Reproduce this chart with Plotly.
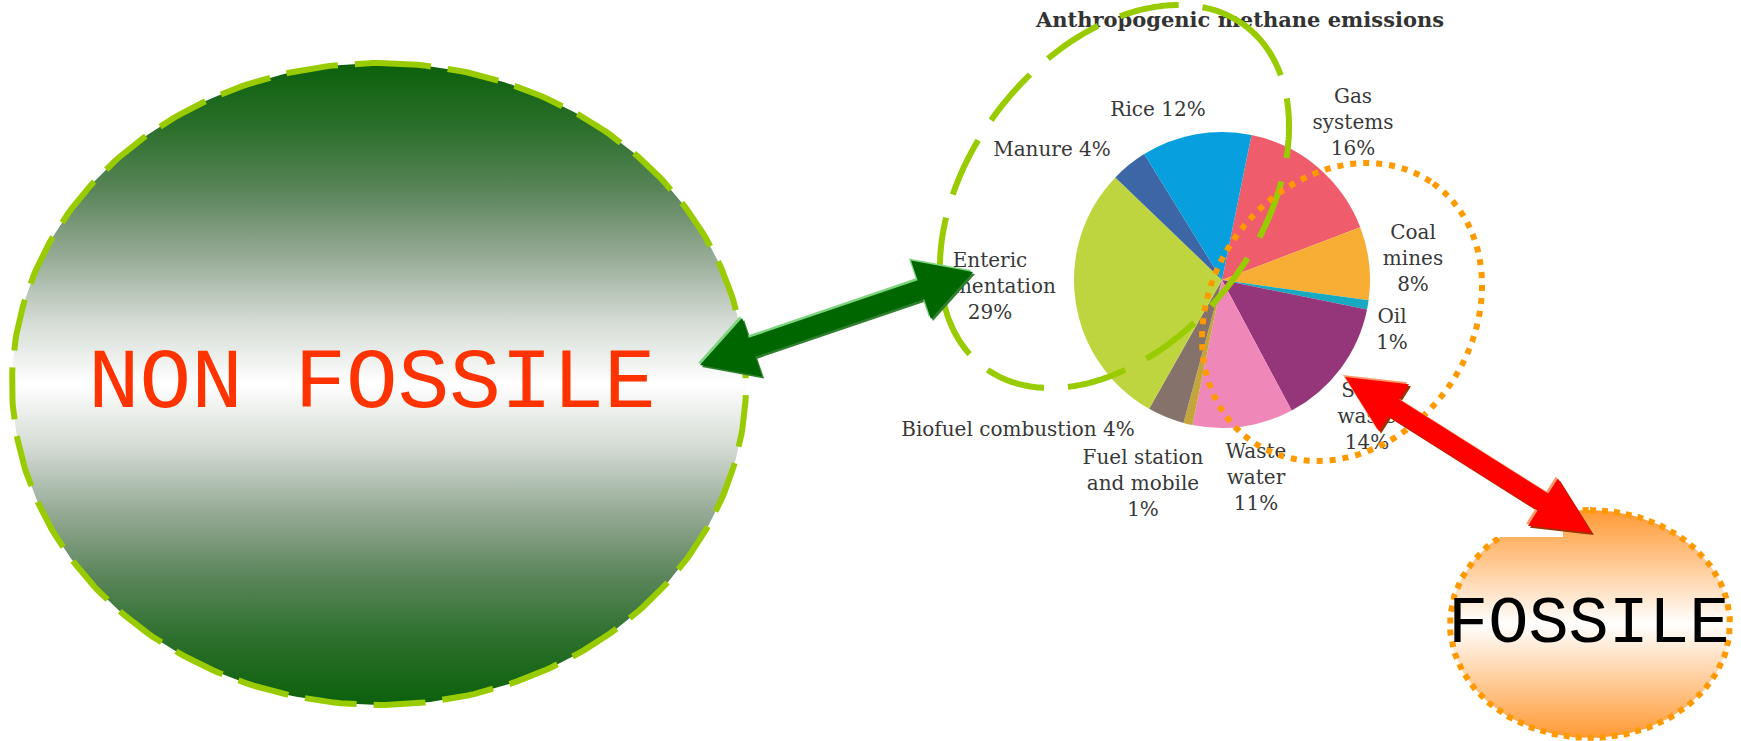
import numpy as np
import plotly.graph_objects as go

# ---------------- data ----------------
categories = ["Gas systems", "Coal mines", "Oil", "Solid waste", "Waste water",
              "Fuel station and mobile", "Biofuel combustion",
              "Enteric fermentation", "Manure", "Rice"]
shares = [16, 8, 1, 14, 11, 1, 4, 29, 4, 12]
label_names = ["Gas<br>systems", "Coal<br>mines", "Oil", "Solid<br>waste", "Waste<br>water",
               "Fuel station<br>and mobile", "Biofuel combustion", "Enteric<br>fermentation",
               "Manure", "Rice"]
label_sep = ["<br>", "<br>", "<br>", "<br>", "<br>", "<br>", " ", "<br>", " ", " "]
slice_colors = ["#EF5D6C", "#F8AD35", "#17A9C2", "#96367A", "#EF88B8",
                "#C3A53C", "#85736B", "#BFD540", "#3C66A6", "#079FDD"]
title_text = "Anthropogenic methane emissions"
group_labels = ["NON FOSSILE", "FOSSILE"]

# ---------------- layout geometry (pixels) ----------------
W, H = 1741, 741
label_x = [1353, 1413, 1392, 1367, 1256, 1143, 1018, 990, 1052, 1158]
label_y = [124, 260, 331, 418, 479, 485, 431, 288, 151, 111]
pie_cx, pie_cy, pie_r = 1222, 280, 148


def ellipse(cx, cy, a, b, tilt=0.0, n=361):
    """a: semi-axis along 'up' direction rotated by tilt (deg, clockwise), b: perpendicular."""
    th = np.radians(tilt)
    um = np.array([np.sin(th), -np.cos(th)])
    un = np.array([np.cos(th), np.sin(th)])
    t = np.linspace(0, 2 * np.pi, n)
    xs = cx + a * np.cos(t) * um[0] + b * np.sin(t) * un[0]
    ys = cy + a * np.cos(t) * um[1] + b * np.sin(t) * un[1]
    return xs, ys


def to_path(xs, ys):
    pts = " L ".join(f"{x:.1f},{y:.1f}" for x, y in zip(xs, ys))
    return "M " + pts + " Z"


def double_arrow(p0, p1, shaft, head_len, head_w, off=(0, 0)):
    p0 = np.array(p0, float) + off
    p1 = np.array(p1, float) + off
    d = p1 - p0
    u = d / np.linalg.norm(d)
    nvec = np.array([-u[1], u[0]])
    b0 = p0 + u * head_len
    b1 = p1 - u * head_len
    pts = [p0, b0 + nvec * head_w / 2, b0 + nvec * shaft / 2, b1 + nvec * shaft / 2,
           b1 + nvec * head_w / 2, p1, b1 - nvec * head_w / 2, b1 - nvec * shaft / 2,
           b0 - nvec * shaft / 2, b0 - nvec * head_w / 2]
    return "M " + " L ".join(f"{x:.1f},{y:.1f}" for x, y in pts) + " Z"


fig = go.Figure()

# big "NON FOSSILE" ellipse with vertical gradient
green_scale = [[0, "#0b600b"], [0.1, "#2b6f2b"], [0.2, "#5a855a"], [0.3, "#95aa95"],
               [0.4, "#d3dad3"], [0.5, "#ffffff"], [0.6, "#d3dad3"], [0.7, "#95aa95"],
               [0.8, "#5a855a"], [0.9, "#2b6f2b"], [1, "#0b600b"]]
gx, gy = ellipse(379, 384, 321, 367)
fig.add_trace(go.Scatter(
    x=gx, y=gy, mode="lines", fill="toself",
    fillgradient=dict(type="vertical", start=63, stop=705, colorscale=green_scale),
    line=dict(color="#99CC00", width=6, dash="52px,17px"),
    hoverinfo="skip", showlegend=False))

# "FOSSILE" ellipse with orange gradient
fx, fy = ellipse(1590, 624, 114, 140)
fig.add_trace(go.Scatter(
    x=fx, y=fy, mode="lines", fill="toself",
    fillgradient=dict(type="vertical", start=510, stop=738,
                      colorscale=[[0, "#FF9933"], [0.5, "#ffffff"], [1, "#FF9933"]]),
    line=dict(color="#FF9900", width=6, dash="6px,6px"),
    hoverinfo="skip", showlegend=False))

# pie labels and title as text
label_text = [f"{n}{s}{v}%" for n, s, v in zip(label_names, label_sep, shares)]
fig.add_trace(go.Scatter(
    x=label_x, y=label_y, mode="text", text=label_text,
    textposition="middle center",
    textfont=dict(family="DejaVu Serif", size=20, color="#383838"),
    hoverinfo="skip", showlegend=False))
fig.add_trace(go.Scatter(
    x=[1240], y=[22], mode="text", text=[title_text],
    textposition="middle center",
    textfont=dict(family="DejaVu Serif", size=21, color="#333333", weight="bold"),
    hoverinfo="skip", showlegend=False))

# the pie
fig.add_trace(go.Pie(
    labels=categories, values=shares, sort=False, direction="clockwise",
    rotation=11.5, marker=dict(colors=slice_colors, line=dict(width=0)),
    textinfo="none", hoverinfo="skip", showlegend=False,
    domain=dict(x=[(pie_cx - pie_r) / W, (pie_cx + pie_r) / W],
                y=[(H - pie_cy - pie_r) / H, (H - pie_cy + pie_r) / H])))

shapes = []
# dashed green tilted ellipse around non-fossil slices
ex, ey = ellipse(1114.5, 196.5, 215, 144.6, tilt=37.9)
shapes.append(dict(type="path", path=to_path(ex, ey), xref="x", yref="y", layer="above",
                   line=dict(color="#99CC00", width=6, dash="60px,24px")))
# dotted orange tilted ellipse around fossil slices
ox, oy = ellipse(1342, 312, 157.6, 130.2, tilt=35.4)
shapes.append(dict(type="path", path=to_path(ox, oy), xref="x", yref="y", layer="above",
                   line=dict(color="#FF9900", width=6, dash="6px,7px")))
# white notch at top-left of FOSSILE ellipse
shapes.append(dict(type="rect", x0=1440, x1=1563, y0=478, y1=537, xref="x", yref="y",
                   layer="above", fillcolor="#ffffff", line=dict(width=0)))

# green double arrow
ga = ((700, 365), (973, 272), 20, 55, 62)
shapes.append(dict(type="path", path=double_arrow(*ga, off=(2, 2)), xref="x", yref="y",
                   layer="above", fillcolor="#2f7f2f", line=dict(width=0)))
shapes.append(dict(type="path", path=double_arrow(*ga, off=(-2, -2)), xref="x", yref="y",
                   layer="above", fillcolor="#7fd47f", line=dict(width=0)))
shapes.append(dict(type="path", path=double_arrow(*ga), xref="x", yref="y",
                   layer="above", fillcolor="#006600", line=dict(width=0)))
# red double arrow
ra = ((1345, 377), (1592, 533), 20, 58, 56)
shapes.append(dict(type="path", path=double_arrow(*ra, off=(2, 2)), xref="x", yref="y",
                   layer="above", fillcolor="#993300", line=dict(width=0)))
shapes.append(dict(type="path", path=double_arrow(*ra, off=(-2, -2)), xref="x", yref="y",
                   layer="above", fillcolor="#FF9966", line=dict(width=0)))
shapes.append(dict(type="path", path=double_arrow(*ra), xref="x", yref="y",
                   layer="above", fillcolor="#FF0000", line=dict(width=0)))

annotations = [
    dict(x=372, y=384, xref="x", yref="y", text=group_labels[0], showarrow=False,
         xanchor="center", yanchor="middle",
         font=dict(family="Liberation Mono", size=86, color="#FF3300")),
    dict(x=1588, y=624, xref="x", yref="y", text=group_labels[1], showarrow=False,
         xanchor="center", yanchor="middle",
         font=dict(family="Liberation Mono", size=67, color="#000000")),
]

fig.update_layout(
    width=W, height=H, margin=dict(l=0, r=0, t=0, b=0),
    paper_bgcolor="#ffffff", plot_bgcolor="#ffffff",
    xaxis=dict(range=[0, W], visible=False, fixedrange=True),
    yaxis=dict(range=[H, 0], visible=False, fixedrange=True),
    shapes=shapes, annotations=annotations, hovermode=False, showlegend=False)

fig.write_html("out.html", config={"displayModeBar": False, "staticPlot": True},
               post_script="document.body.style.margin='0px';")
